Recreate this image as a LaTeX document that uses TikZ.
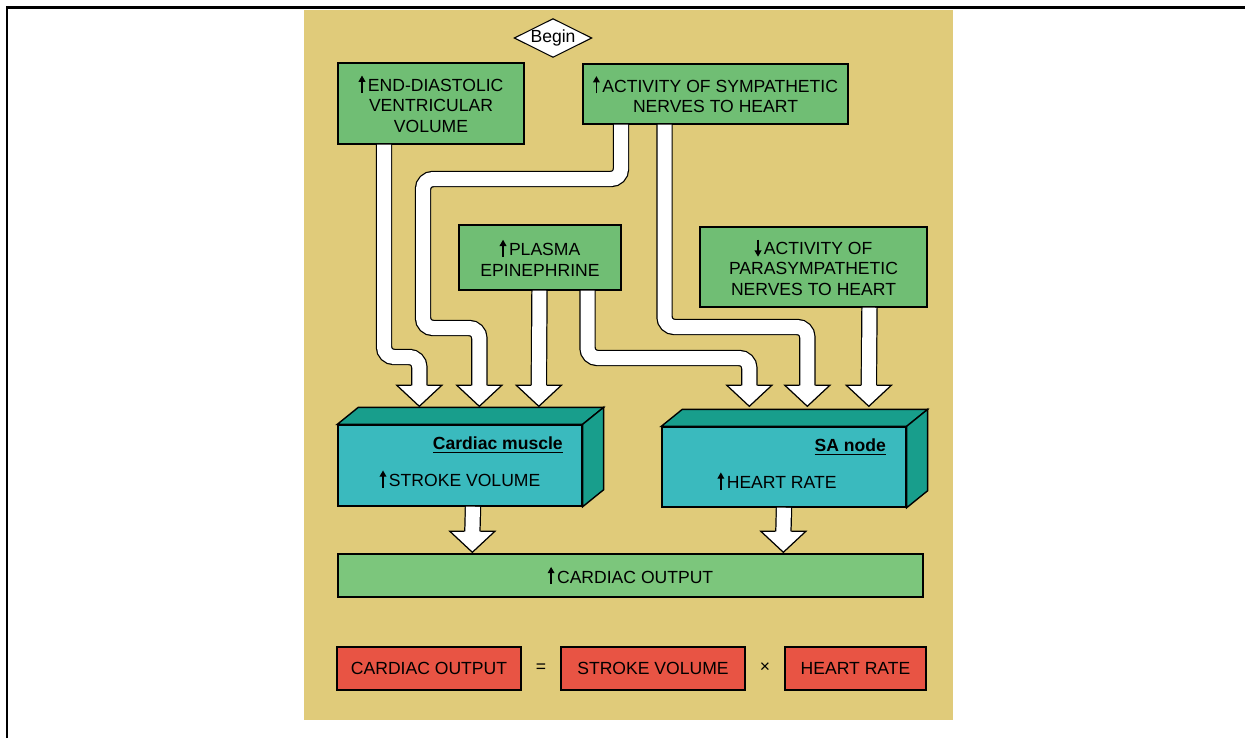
\documentclass[tikz,border=0pt]{standalone}
\usepackage{fontspec}
\setmainfont{Liberation Sans}
\usetikzlibrary{shapes.geometric,calc,arrows.meta}
\definecolor{tanbg}{RGB}{224,203,122}
\definecolor{boxgreen}{RGB}{112,190,116}
\definecolor{bargreen}{RGB}{124,198,124}
\definecolor{tealfront}{RGB}{58,186,190}
\definecolor{tealdark}{RGB}{24,158,140}
\definecolor{boxred}{RGB}{232,84,68}
\newcommand{\uparw}{\tikz[baseline=0pt]\draw[line width=0.8pt, -{Triangle[length=3.6pt,width=3.8pt]}] (0pt,-0.6pt) -- (0pt,9.2pt);\hspace{1.5pt}}
\newcommand{\downarw}{\tikz[baseline=0pt]\draw[line width=0.8pt, -{Triangle[length=3.6pt,width=3.8pt]}] (0pt,8.6pt) -- (0pt,-1.2pt);\hspace{1.5pt}}
\tikzstyle{gbox} = [draw, line width=0.8pt, fill=boxgreen, align=center, inner sep=0pt]
\tikzstyle{tbox} = [draw, line width=0.8pt, fill=tealfront, inner sep=0pt]
\tikzstyle{rbox} = [draw, line width=0.8pt, fill=boxred, inner sep=0pt]
\tikzstyle{shaft} = [line width=0.7pt, double=white, double distance=0.28cm, rounded corners=0.2cm]
\tikzset{bighead/.pic={
  \fill[white] (0,0) -- (-22.5,-21) -- (22.5,-21) -- cycle;
  \draw[line width=0.7pt, line join=miter] (-8,-21) -- (-22.5,-21) -- (0,0) -- (22.5,-21) -- (8,-21);
}}

\begin{document}
\begin{tikzpicture}[x=0.02cm, y=-0.02cm, font=\fontsize{10}{11.5}\selectfont]
  \useasboundingbox (0,0) rectangle (1245,738);
  \fill[tanbg] (304,10) rectangle (953,720);
  \draw[line width=0.06cm] (7,738) -- (7,7) -- (1245,7);

  % boxes
  \node[draw, fill=white, shape=diamond, aspect=2, inner sep=0pt, line width=0.6pt] (begin) at (553,38) {Begin};
  \node[gbox, minimum width=3.72cm, minimum height=1.62cm] (edv) at (431,103.5) {\uparw END-DIASTOLIC\\VENTRICULAR\\VOLUME};
  \node[gbox, minimum width=5.3cm, minimum height=1.2cm] (sym) at (715.5,94) {\uparw ACTIVITY OF SYMPATHETIC\\NERVES TO HEART};
  \node[gbox, minimum width=3.24cm, minimum height=1.3cm] (plasma) at (540,257.5) {\uparw PLASMA\\EPINEPHRINE};
  \node[gbox, minimum width=4.54cm, minimum height=1.6cm] (parasym) at (813.5,267) {\downarw ACTIVITY OF\\PARASYMPATHETIC\\NERVES TO HEART};
  \node[tbox, minimum width=4.88cm, minimum height=1.62cm] (cm) at (460,465.5) {};
  \node[tbox, minimum width=4.88cm, minimum height=1.6cm] (sa) at (784,467) {};
  \foreach \b in {cm,sa} {
    \filldraw[fill=tealdark, line width=0.8pt] (\b.north west) -- ++(21,-17) -- ($(\b.north east)+(21,-17)$) -- (\b.north east) -- cycle;
    \filldraw[fill=tealdark, line width=0.8pt] (\b.north east) -- ++(21,-17) -- ($(\b.south east)+(21,-17)$) -- (\b.south east) -- cycle;
  }
  \node[font=\fontsize{10}{11.5}\selectfont\bfseries, anchor=east] (cmname) at (569,445) {\underline{Cardiac muscle}};
  \node (cmtext) at (460,479) {\uparw STROKE VOLUME};
  \node[font=\fontsize{10}{11.5}\selectfont\bfseries, anchor=east] (saname) at (892,447) {\underline{SA node}};
  \node (satext) at (777,481) {\uparw HEART RATE};
  \node[gbox, fill=bargreen, minimum width=11.7cm, minimum height=0.86cm] (co) at (630.5,575.5) {\uparw CARDIAC OUTPUT};

  \node[rbox, minimum width=3.68cm, minimum height=0.86cm] (cored) at (429,668.5) {CARDIAC OUTPUT};
  \node (eq) at (541,668) {=};
  \node[rbox, minimum width=3.68cm, minimum height=0.86cm] (svred) at (653,668.5) {STROKE VOLUME};
  \node (times) at (765,668) {×};
  \node[rbox, minimum width=2.82cm, minimum height=0.86cm] (hrred) at (855.5,668.5) {HEART RATE};

  % broad arrows
  \draw[shaft] ($(edv.south)+(-47,0)$) |- (402,357) -| ($(cm.north west)+(82,-38)$);
  \draw[shaft] ($(sym.south)+(-94.5,0)$) |- (423,179) |- (450,328) -| ($(cm.north west)+(142,-38)$);
  \draw[shaft] ($(plasma.south)+(-0.5,0)$) -- ($(cm.north west)+(201.5,-38)$);
  \draw[shaft] ($(plasma.south)+(47.5,0)$) |- (700,358) -| ($(sa.north west)+(88,-40)$);
  \draw[shaft] ($(sym.south)+(-51,0)$) |- (750,327) -| ($(sa.north west)+(146,-40)$);
  \draw[shaft] ($(parasym.south)+(56,0)$) -- ($(sa.north west)+(207.5,-40)$);
  \draw[shaft] ($(cm.south)+(13,0)$) -- ($(co.north west)+(135,-21)$);
  \draw[shaft] (sa.south) -- ($(co.north west)+(446,-21)$);
  \foreach \n/\dx/\dy in {cm/82/-18, cm/142/-18, cm/201.5/-18, sa/88/-20, sa/146/-20, sa/207.5/-20, co/135/-1, co/446/-1}
    \pic at ($(\n.north west)+(\dx,\dy)$) {bighead};
\end{tikzpicture}
\end{document}
